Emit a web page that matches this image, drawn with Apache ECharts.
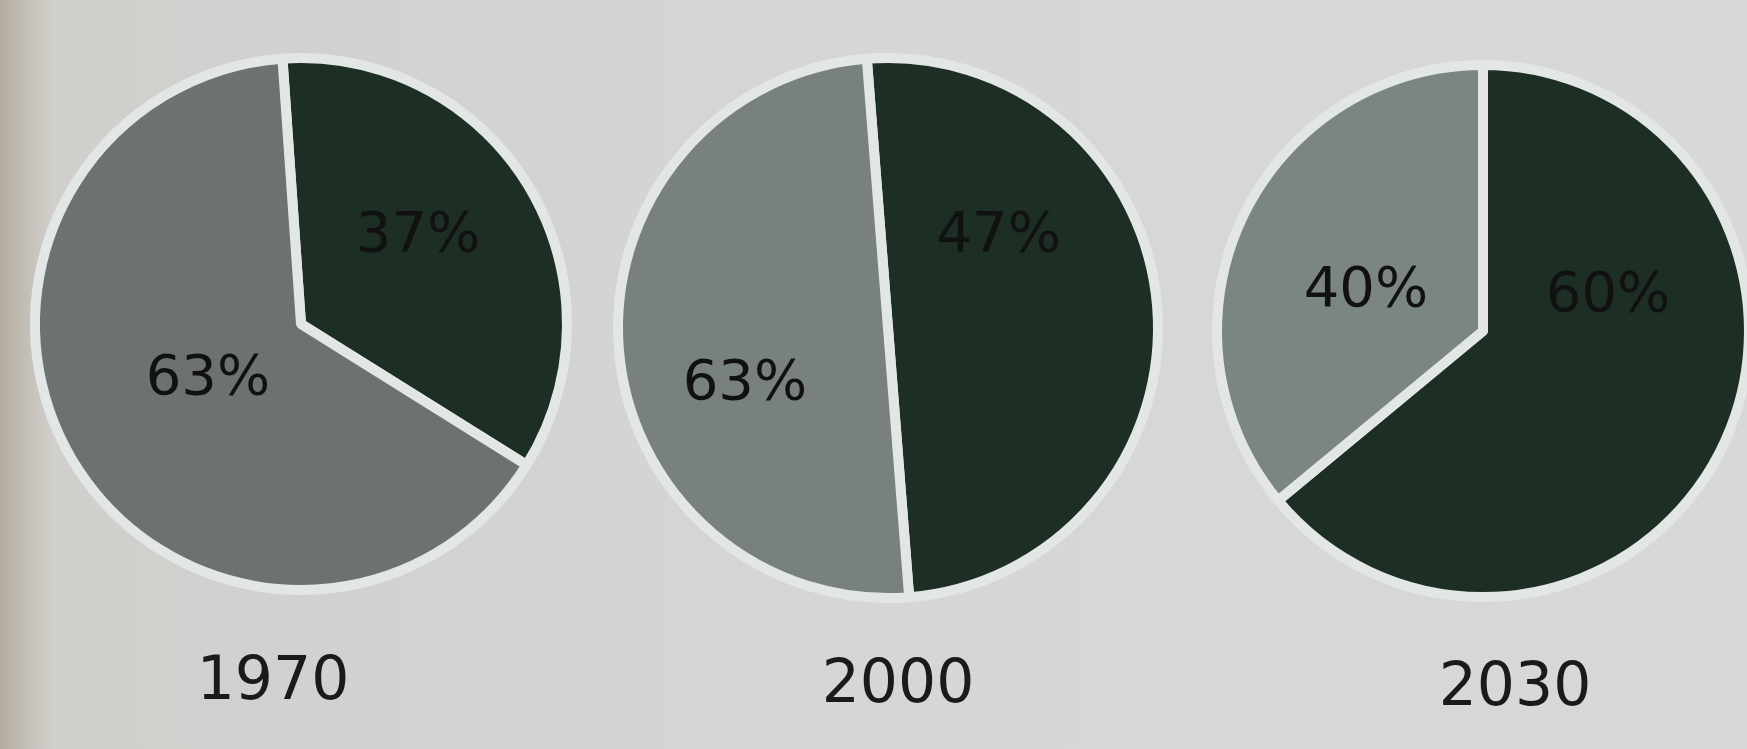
<!DOCTYPE html>
<html><head><meta charset="utf-8">
<script src="https://cdn.jsdelivr.net/npm/echarts@6/dist/echarts.min.js"></script>
<style>html,body{margin:0;padding:0;background:#d3d3d5;overflow:hidden}#c{width:1747px;height:749px}</style>
</head><body><div id="c"></div><script>
// Data
const years = ['1970', '2000', '2030'];
const sliceNames = ['dark', 'gray'];
const darkShare = [35, 50, 64];      // drawn share of dark slice (%)
const grayShare = [65, 50, 36];      // drawn share of gray slice (%)
const darkLabel = ['37%', '47%', '60%']; // printed labels
const grayLabel = ['63%', '63%', '40%'];

// Layout / style (not data)
const centers = [[301, 324], [888, 328], [1483, 331]];
const radii = [266, 270, 266];
const startAngles = [94, 94.5, 90];
const labelFrac = [
  [[0.44, -0.33], [-0.35, 0.21]],
  [[0.41, -0.34], [-0.53, 0.21]],
  [[0.47, -0.13], [-0.44, -0.15]]
];
const yearPos = [[273, 683], [898, 686], [1515, 689]];
const darkColor = '#1d2e25';
const grayColors = ['#6b726f', '#78817e', '#7b8582'];
const gapColor = '#e2e7e5';

const chart = echarts.init(document.getElementById('c'), null, {renderer: 'canvas'});
const series = years.map((y, i) => ({
  type: 'pie',
  name: y,
  center: centers[i],
  radius: radii[i],
  startAngle: startAngles[i],
  clockwise: true,
  silent: true,
  animation: false,
  itemStyle: {borderColor: gapColor, borderWidth: 10},
  label: {
    show: true,
    position: 'inside',
    color: '#111',
    fontFamily: 'DejaVu Sans',
    fontSize: 56,
    formatter: p => (p.dataIndex === 0 ? darkLabel[i] : grayLabel[i])
  },
  labelLine: {show: false},
  labelLayout: p => ({
    x: centers[i][0] + labelFrac[i][p.dataIndex][0] * radii[i],
    y: centers[i][1] + labelFrac[i][p.dataIndex][1] * radii[i],
    align: 'center',
    verticalAlign: 'middle'
  }),
  data: [
    {name: sliceNames[0], value: darkShare[i], itemStyle: {color: darkColor}},
    {name: sliceNames[1], value: grayShare[i], itemStyle: {color: grayColors[i]}}
  ]
}));

chart.setOption({
  animation: false,
  backgroundColor: {
    type: 'linear', x: 0, y: 0, x2: 1, y2: 0,
    colorStops: [
      {offset: 0, color: '#b3ab9c'},
      {offset: 0.015, color: '#c4bfb6'},
      {offset: 0.03, color: '#d0cfcc'},
      {offset: 0.5, color: '#d6d6d8'},
      {offset: 1, color: '#d8d8da'}
    ]
  },
  graphic: years.map((y, i) => ({
    type: 'text',
    x: yearPos[i][0],
    y: yearPos[i][1],
    style: {
      text: y,
      align: 'center',
      verticalAlign: 'middle',
      fill: '#1a1a1a',
      font: '60px "DejaVu Sans"'
    }
  })),
  series: series
});
</script></body></html>
